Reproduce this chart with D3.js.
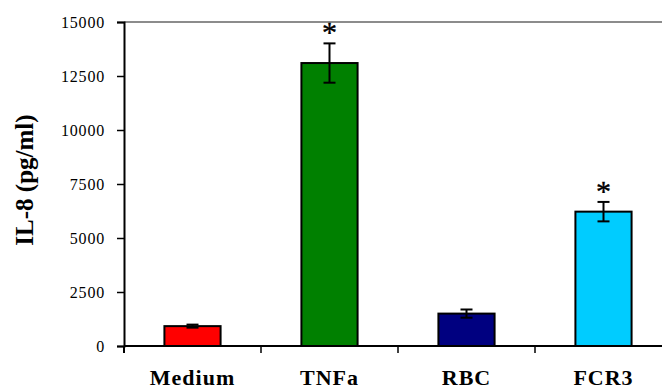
<!DOCTYPE html>
<html><head><meta charset="utf-8">
<script src="https://cdn.jsdelivr.net/npm/d3@7"></script>
<style>body{margin:0;background:#fff}svg{display:block}</style>
</head><body><svg id="c" width="662" height="389"></svg>
<script>
const categories = ["Medium", "TNFa", "RBC", "FCR3"];
const values = [920, 13100, 1500, 6220];
const errors = [70, 910, 190, 450];
const significant = [false, true, false, true];
const colors = ["#FF0000", "#008000", "#000080", "#00CCFF"];
const yTicks = [0, 2500, 5000, 7500, 10000, 12500, 15000];

const svg = d3.select("#c");
const x = d3.scaleBand().domain(categories).range([124, 672]).paddingInner(0.59).paddingOuter(0.295);
const xt = d3.scaleBand().domain(categories).range([124, 672]);
const y = d3.scaleLinear().domain([0, 15000]).range([346, 22]);

// top frame line
svg.append("line").attr("x1", 124).attr("x2", 662).attr("y1", y(15000)).attr("y2", y(15000))
  .attr("stroke", "#666").attr("stroke-width", 1.5);

// y axis
const ya = svg.append("g").attr("transform", "translate(124,0)")
  .call(d3.axisLeft(y).tickValues(yTicks).tickSize(7).tickPadding(12).tickFormat(d3.format("d")));
ya.select(".domain").attr("stroke", "#000").attr("stroke-width", 2);
ya.selectAll(".tick line").attr("stroke", "#000").attr("stroke-width", 1.5);
ya.selectAll(".tick text").attr("font-family", "'Liberation Serif', 'Times New Roman', serif")
  .attr("font-size", 16).attr("letter-spacing", 0.8).attr("fill", "#000");

// bars
svg.selectAll("rect.bar").data(categories).join("rect").attr("class", "bar")
  .attr("x", d => x(d)).attr("width", x.bandwidth())
  .attr("y", (d, i) => y(values[i])).attr("height", (d, i) => y(0) - y(values[i]))
  .attr("fill", (d, i) => colors[i]).attr("stroke", "#000").attr("stroke-width", 2);

// error bars
const eg = svg.append("g").attr("stroke", "#000").attr("stroke-width", 2);
categories.forEach((c, i) => {
  const cx = x(c) + x.bandwidth() / 2;
  eg.append("line").attr("x1", cx).attr("x2", cx).attr("y1", y(values[i] + errors[i])).attr("y2", y(values[i] - errors[i]));
  [values[i] + errors[i], values[i] - errors[i]].forEach(v => {
    eg.append("line").attr("x1", cx - 6).attr("x2", cx + 6).attr("y1", y(v)).attr("y2", y(v));
  });
  if (significant[i]) {
    svg.append("text").attr("x", cx).attr("y", y(values[i] + errors[i]) - 1)
      .attr("text-anchor", "middle").attr("font-family", "'Liberation Serif', 'Times New Roman', serif")
      .attr("font-size", 30).attr("stroke", "#000").attr("stroke-width", 0.4).attr("fill", "#000").text("*");
  }
});

// x axis
svg.append("line").attr("x1", 124).attr("x2", 662).attr("y1", 346).attr("y2", 346).attr("stroke", "#000").attr("stroke-width", 2);
xt.domain().slice(1).forEach(c => {
  svg.append("line").attr("x1", xt(c)).attr("x2", xt(c)).attr("y1", 346).attr("y2", 353).attr("stroke", "#000").attr("stroke-width", 1.5);
});
svg.append("line").attr("x1", 124).attr("x2", 124).attr("y1", 346).attr("y2", 353).attr("stroke", "#000").attr("stroke-width", 2);
svg.selectAll("text.xl").data(categories).join("text").attr("class", "xl")
  .attr("x", d => xt(d) + xt.bandwidth() / 2).attr("y", 385)
  .attr("text-anchor", "middle").attr("font-family", "'Liberation Serif', 'Times New Roman', serif")
  .attr("font-weight", "bold").attr("font-size", 22).attr("letter-spacing", 1).text(d => d);

// y title
svg.append("text").attr("transform", "translate(33,180) rotate(-90)")
  .attr("text-anchor", "middle").attr("font-family", "'Liberation Serif', 'Times New Roman', serif")
  .attr("font-weight", "bold").attr("font-size", 25).text("IL-8 (pg/ml)");
</script></body></html>
